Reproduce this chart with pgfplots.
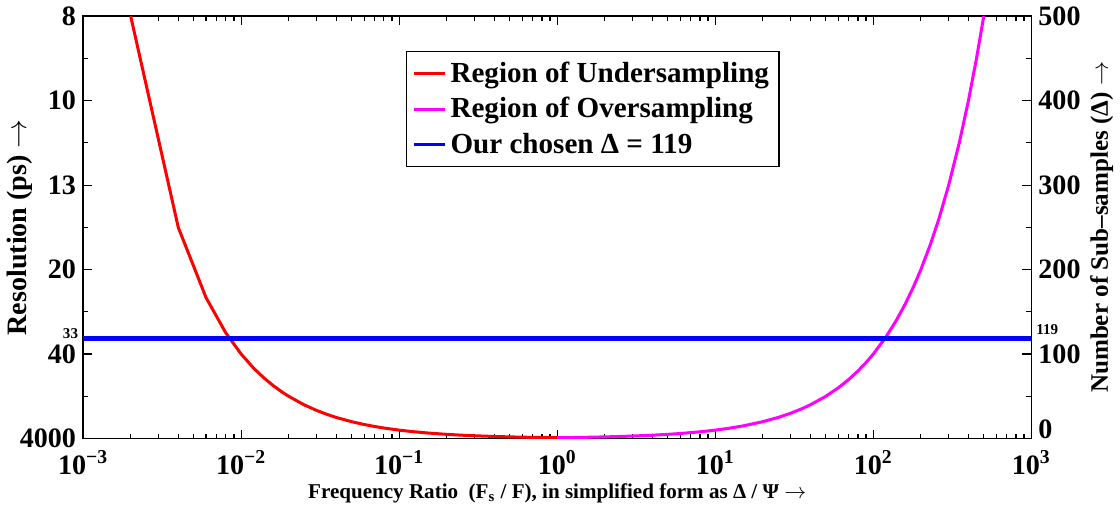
\documentclass[border=0pt]{standalone}
\usepackage{pgfplots}
\pgfplotsset{compat=1.18}
\usepackage{fontspec}
\setmainfont{Liberation Serif}
\definecolor{mag}{rgb}{1,0,1}
\definecolor{pblue}{rgb}{0,0,1}
\definecolor{pred}{rgb}{1,0,0}
\newcommand{\bigfont}{\bfseries\fontsize{14}{16}\selectfont}
\newcommand{\smallfont}{\bfseries\fontsize{7.5}{8}\selectfont}
\begin{document}
\begin{tikzpicture}
\begin{axis}[
  width=472.5pt, height=210.5pt, scale only axis,
  xmode=log, xmin=1e-3, xmax=1e3,
  ymin=0, ymax=500,
  axis line style={line width=0.7pt},
  tick align=inside, tick style={black, line width=0.6pt},
  major tick length=4.5pt, minor tick length=2.5pt,
  xtick={1e-3,1e-2,1e-1,1,1e1,1e2,1e3},
  xticklabels={10\textsuperscript{−3},10\textsuperscript{−2},10\textsuperscript{−1},10\textsuperscript{0},10\textsuperscript{1},10\textsuperscript{2},10\textsuperscript{3}},
  ytick={0,100,200,300,400,500},
  yticklabels={4000,40,20,13,10,8},
  minor y tick num=1,
  extra y ticks={119}, extra y tick labels={\smallfont 33},
  extra y tick style={major tick length=0pt, yticklabel style={yshift=2pt, xshift=1pt}},
  ticklabel style={font=\bigfont},
  xticklabel style={yshift=-2.5pt, text depth=0pt},
  xlabel={\bfseries\fontsize{10.5}{12}\selectfont Frequency Ratio\ \ (F\textsubscript{s} / F), in simplified form as Δ / Ψ $\rightarrow$},
  xlabel style={inner sep=1pt, yshift=0pt},
  ylabel={\bigfont Resolution (ps) $\rightarrow$},
  ylabel style={yshift=-13pt},
  legend style={at={(0.34,0.917)}, anchor=north west, draw=black, line width=0.6pt,
    font=\bfseries\fontsize{14.5}{16}\selectfont, inner sep=3pt, row sep=2pt},
  legend cell align=left,
  legend image code/.code={\draw[#1, line width=1.5pt] (0cm,0cm) -- (0.55cm,0cm);},
]
\addplot[pred, line width=1.5pt] coordinates {
  (0.002,500) (0.004,250) (0.006,166.67) (0.008,125) (0.010,100) (0.012,83.33)
  (0.014,71.43) (0.016,62.5) (0.018,55.56) (0.020,50) (0.025,40) (0.030,33.33)
  (0.035,28.57) (0.040,25) (0.050,20) (0.060,16.67) (0.070,14.29) (0.080,12.5)
  (0.100,10) (0.120,8.33) (0.150,6.67) (0.200,5) (0.250,4) (0.300,3.33)
  (0.400,2.5) (0.500,2) (0.600,1.67) (0.800,1.25) (1.000,1)};
\addlegendentry{Region of Undersampling}
\addplot[mag, line width=1.5pt] coordinates {
  (1,1) (1.25,1.25) (1.5,1.5) (2,2) (2.5,2.5) (3,3) (4,4) (5,5) (6,6) (8,8)
  (10,10) (12,12) (15,15) (20,20) (25,25) (30,30) (35,35) (40,40) (50,50)
  (60,60) (70,70) (80,80) (90,90) (100,100) (120,120) (140,140) (160,160)
  (180,180) (200,200) (230,230) (260,260) (300,300) (350,350) (400,400)
  (450,450) (500,500)};
\addlegendentry{Region of Oversampling}
\addplot[pblue, line width=2.5pt] coordinates {(1e-3,119) (1e3,119)};
\addlegendentry{Our chosen Δ = 119}
\end{axis}
\begin{axis}[
  width=472.5pt, height=210.5pt, scale only axis,
  xmode=log, xmin=1e-3, xmax=1e3,
  ymin=0, ymax=500,
  axis x line=none, axis y line*=right,
  axis line style={line width=0.7pt, -},
  ytick={0,100,200,300,400,500},
  yticklabels={\raisebox{9pt}{0},100,200,300,400,500},
  major tick length=0pt,
  extra y ticks={119}, extra y tick labels={\smallfont 119},
  extra y tick style={yticklabel style={yshift=4pt, xshift=-1pt}},
  ticklabel style={font=\bigfont},
  ylabel={\bfseries\fontsize{12.5}{14}\selectfont Number of Sub–samples (Δ) $\rightarrow$},
  ylabel style={yshift=2pt},
]
\end{axis}
\end{tikzpicture}
\end{document}
